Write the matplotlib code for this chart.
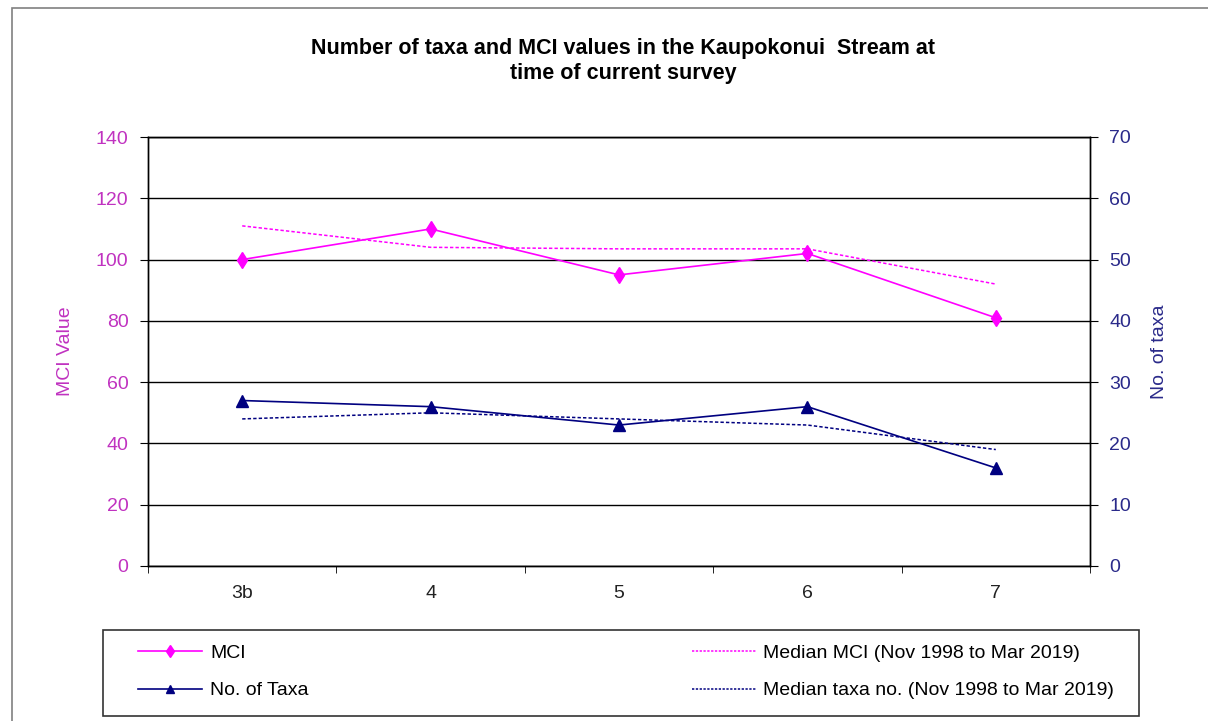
import matplotlib
matplotlib.use("Agg")
import matplotlib.pyplot as plt
from matplotlib.patches import Rectangle
from matplotlib.lines import Line2D

plt.rcParams['font.family'] = ['Liberation Sans', 'DejaVu Sans']

# Survey sites and values
sites = ["3b", "4", "5", "6", "7"]
mci = [100, 110, 95, 102, 81]
median_mci = [111, 104, 103.5, 103.5, 92]
taxa = [27, 26, 23, 26, 16]
median_taxa = [24, 25, 24, 23, 19]

title = "Number of taxa and MCI values in the Kaupokonui  Stream at\ntime of current survey"

PINK = "#FF00FF"
NAVY = "#000080"
PINK_TXT = "#C032C0"
NAVY_TXT = "#2A2A8A"

W, H = 1208, 721
fig = plt.figure(figsize=(W / 100, H / 100), dpi=100)
fig.patch.set_facecolor("white")

def fx(px):
    return px / W

def fy(py):
    return 1 - py / H

left, right, top, bottom = 148, 1090, 137, 566
ax = fig.add_axes([fx(left), fy(bottom), fx(right - left), fy(top) - fy(bottom)])
ax2 = ax.twinx()

x = list(range(len(sites)))

ax.set_ylim(0, 140)
ax.set_yticks(range(0, 141, 20))
ax2.set_ylim(0, 70)
ax2.set_yticks(range(0, 71, 10))
ax.set_xlim(-0.5, len(sites) - 0.5)

# horizontal gridlines
ax.yaxis.grid(True, color="black", lw=1.0)
ax.set_axisbelow(True)

ax.plot(x, median_mci, color=PINK, lw=1.1, ls=(0, (2.2, 1.4)), zorder=3)
ax.plot(x, mci, color=PINK, lw=1.2, marker="d", ms=8, zorder=4)
ax2.plot(x, median_taxa, color=NAVY, lw=1.1, ls=(0, (2.2, 1.4)), zorder=3)
ax2.plot(x, taxa, color=NAVY, lw=1.2, marker="^", ms=8, zorder=4)

# category ticks between sites
ax.set_xticks(x)
ax.set_xticklabels(sites, fontsize=14, color="#222222")
ax.set_xticks([i - 0.5 for i in range(len(sites) + 1)], minor=True)
ax.tick_params(axis="x", which="major", length=0, pad=14)
ax.tick_params(axis="x", which="minor", length=5, direction="out", color="black")

ax.tick_params(axis="y", length=6, direction="out", labelsize=14,
               labelcolor=PINK_TXT, pad=8, color="black")
ax2.tick_params(axis="y", length=6, direction="out", labelsize=14,
                labelcolor=NAVY_TXT, pad=8, color="black")

for a in (ax, ax2):
    for s in a.spines.values():
        s.set_color("black")
        s.set_linewidth(1.0)

ax.set_ylabel("MCI Value", fontsize=14, color=PINK_TXT, labelpad=16)
ax2.set_ylabel("No. of taxa", fontsize=14, color=NAVY_TXT, labelpad=14)

fig.text(fx(623), fy(61), title, ha="center", va="center", fontsize=15.5,
         fontweight="bold", linespacing=1.25)

# outer chart border
fig.patches.append(Rectangle((fx(12), -0.02), 1.2, fy(8) + 0.02,
                             transform=fig.transFigure, fill=False,
                             edgecolor="#808080", lw=1.2))

# legend frame
fig.patches.append(Rectangle((fx(103), fy(716)), fx(1139 - 103), fy(630) - fy(716),
                             transform=fig.transFigure, fill=False,
                             edgecolor="#333333", lw=1.2))

handles = [
    Line2D([], [], color=PINK, lw=1.2, marker="d", ms=6),
    Line2D([], [], color=NAVY, lw=1.2, marker="^", ms=6),
    Line2D([], [], color=PINK, lw=1.1, ls=(0, (1.5, 1))),
    Line2D([], [], color=NAVY, lw=1.1, ls=(0, (1.5, 1))),
]
labels = ["MCI", "No. of Taxa",
          "Median MCI (Nov 1998 to Mar 2019)",
          "Median taxa no. (Nov 1998 to Mar 2019)"]
fig.legend(handles, labels, ncol=2, loc="center left",
           bbox_to_anchor=(fx(138), fy(672)), frameon=False, fontsize=14,
           handlelength=3.3, handletextpad=0.4, columnspacing=19.7,
           labelspacing=1.0, borderpad=0, borderaxespad=0)

fig.savefig("out.png", dpi=100, facecolor="white")
